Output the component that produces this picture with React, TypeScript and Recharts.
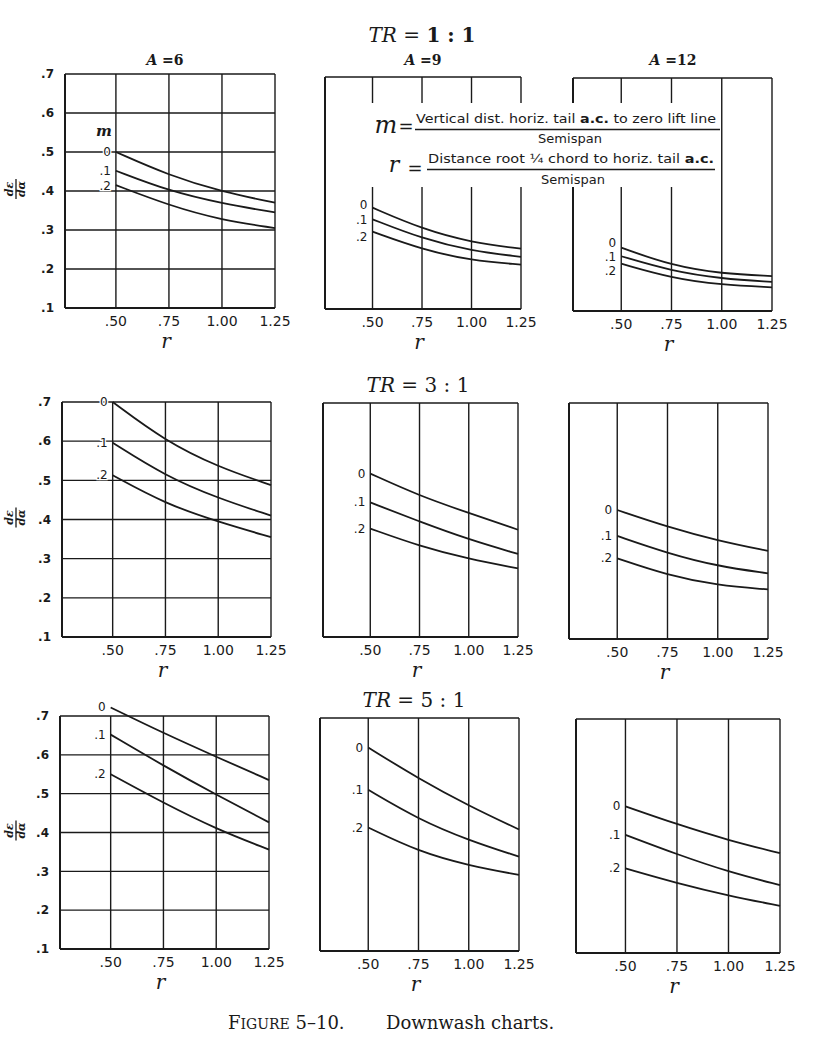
import React from 'react';
import { LineChart, Line, XAxis, YAxis, CartesianGrid } from 'recharts';

// ---------- data ----------
const rValues = [0.5, 0.75, 1.0, 1.25];
const rTicks = [0.5, 0.75, 1.0, 1.25];
const rTickLabels = ['.50', '.75', '1.00', '1.25'];
const yTicks = [0.1, 0.2, 0.3, 0.4, 0.5, 0.6, 0.7];
const yTickLabels = ['.1', '.2', '.3', '.4', '.5', '.6', '.7'];
const mLabels = ['0', '.1', '.2'];
const seriesKeys = ['m0', 'm1', 'm2'];
const trTitles = ['1 : 1', '3 : 1', '5 : 1'];
const aspectLabels = ['6', '9', '12'];

// each panel: [m = 0, m = .1, m = .2] at r = .50, .75, 1.00, 1.25
const tr1A6 = [[0.5, 0.44, 0.398, 0.37], [0.452, 0.4, 0.368, 0.345], [0.415, 0.363, 0.325, 0.305]];
const tr1A9 = [[0.362, 0.307, 0.272, 0.256], [0.332, 0.282, 0.25, 0.235], [0.3, 0.254, 0.225, 0.215]];
const tr1A12 = [[0.263, 0.217, 0.196, 0.19], [0.241, 0.203, 0.183, 0.175], [0.222, 0.185, 0.167, 0.161]];
const tr3A6 = [[0.7, 0.6, 0.534, 0.488], [0.596, 0.511, 0.454, 0.41], [0.513, 0.44, 0.394, 0.355]];
const tr3A9 = [[0.519, 0.462, 0.418, 0.375], [0.445, 0.396, 0.35, 0.313], [0.378, 0.333, 0.3, 0.276]];
const tr3A12 = [[0.428, 0.385, 0.35, 0.324], [0.362, 0.318, 0.285, 0.267], [0.305, 0.262, 0.236, 0.226]];
const tr5A6 = [[0.722, 0.656, 0.595, 0.535], [0.652, 0.572, 0.497, 0.426], [0.55, 0.476, 0.409, 0.356]];
const tr5A9 = [[0.624, 0.544, 0.474, 0.413], [0.515, 0.439, 0.385, 0.343], [0.418, 0.356, 0.32, 0.296]];
const tr5A12 = [[0.476, 0.43, 0.389, 0.356], [0.403, 0.353, 0.308, 0.274], [0.317, 0.279, 0.247, 0.221]];

// ---------- layout ----------
const INK = '#1a1a1a';
const PAD_L = 66;
const PAD_T = 20;
const PAD_R = 22;
const PAD_B = 46;

const panels = [
  { box: { x: 65, y: 74, w: 210, h: 234 }, series: tr1A6, showY: true, showM: true, labelDy: [0, 0, 1] },
  { box: { x: 325, y: 77, w: 196, h: 232 }, series: tr1A9, showY: false, showM: false, labelDy: [-3, 1, 5] },
  { box: { x: 573, y: 78, w: 199, h: 233 }, series: tr1A12, showY: false, showM: false, labelDy: [-5, 1, 7] },
  { box: { x: 62, y: 402, w: 209, h: 235 }, series: tr3A6, showY: true, showM: false, labelDy: [0, 0, 0] },
  { box: { x: 323, y: 403, w: 195, h: 234 }, series: tr3A9, showY: false, showM: false, labelDy: [0, 0, 0] },
  { box: { x: 569, y: 403, w: 199, h: 236 }, series: tr3A12, showY: false, showM: false, labelDy: [0, 0, 0] },
  { box: { x: 60, y: 716, w: 209, h: 233 }, series: tr5A6, showY: true, showM: false, labelDy: [0, 0, 0] },
  { box: { x: 320, y: 718, w: 199, h: 233 }, series: tr5A9, showY: false, showM: false, labelDy: [0, 0, 0] },
  { box: { x: 576, y: 719, w: 204, h: 234 }, series: tr5A12, showY: false, showM: false, labelDy: [0, 0, 0] },
];

const lookup = (vals: number[], labels: string[], v: number) => {
  const i = vals.findIndex((t) => Math.abs(t - v) < 1e-6);
  return i >= 0 ? labels[i] : '';
};

function FractionLabel(props: any) {
  const vb = props.viewBox || {};
  const cx = 16 - props.chartLeft;
  const cy = (vb.y || 0) + (vb.height || 0) / 2 - 2;
  const f = { fontFamily: 'DejaVu Serif', fontStyle: 'italic', fontWeight: 'bold', fontSize: 11, fill: INK } as any;
  return (
    <g transform={`translate(${cx}, ${cy}) rotate(-90)`}>
      <text x={0} y={-3} textAnchor="middle" {...f}>dε</text>
      <line x1={-10} x2={10} y1={0} y2={0} stroke={INK} strokeWidth={1.3} />
      <text x={0} y={9} textAnchor="middle" {...f}>dα</text>
    </g>
  );
}

function makeCurveLabel(text: string, showM: boolean, dy: number) {
  return function CurveLabel(p: any) {
    if (p.index !== 0) return null;
    const x = p.x ?? p.viewBox?.x;
    const y = p.y ?? p.viewBox?.y;
    if (x == null || y == null) return null;
    return (
      <g>
        {showM && (
          <text x={x - 12} y={y - 16} textAnchor="middle" fontFamily="DejaVu Serif" fontStyle="italic" fontWeight="bold" fontSize={15} fill={INK}>m</text>
        )}
        <text
          x={x - 5}
          y={y + 4 + dy}
          textAnchor="end"
          fontFamily="DejaVu Sans"
          fontSize={12}
          fill={INK}
          stroke="#fff"
          strokeWidth={2.5}
          paintOrder="stroke"
        >
          {text}
        </text>
      </g>
    );
  };
}

function Panel({ box, series, showY, showM, labelDy }: any) {
  const data = rValues.map((r, i) => ({ r, m0: series[0][i], m1: series[1][i], m2: series[2][i] }));
  const chartLeft = box.x - PAD_L;
  return (
    <div style={{ position: 'absolute', left: chartLeft, top: box.y - PAD_T }}>
      <LineChart
        width={box.w + PAD_L + PAD_R}
        height={box.h + PAD_T + PAD_B}
        data={data}
        margin={{ top: PAD_T, right: PAD_R, left: 0, bottom: 0 }}
      >
        <CartesianGrid stroke={INK} strokeWidth={1.4} />
        <XAxis
          type="number"
          dataKey="r"
          domain={[0.26, 1.25]}
          ticks={rTicks}
          allowDataOverflow
          interval={0}
          height={PAD_B}
          tickLine={false}
          tickMargin={2}
          axisLine={{ stroke: INK, strokeWidth: 2 }}
          tick={{ fontFamily: 'DejaVu Sans', fontSize: 14, fill: INK }}
          tickFormatter={(v: number) => lookup(rTicks, rTickLabels, v)}
          label={{
            value: 'r',
            position: 'insideBottom',
            offset: 6,
            dx: -4,
            fontFamily: 'DejaVu Serif',
            fontStyle: 'italic',
            fontSize: 20,
            fill: INK,
          }}
        />
        <YAxis
          type="number"
          domain={[0.1, 0.7]}
          ticks={yTicks}
          allowDataOverflow
          interval={0}
          width={PAD_L}
          tickLine={false}
          tickMargin={5}
          axisLine={{ stroke: INK, strokeWidth: 2 }}
          tick={showY ? { fontFamily: 'DejaVu Sans', fontWeight: 'bold', fontSize: 12, fill: INK } : false}
          tickFormatter={(v: number) => lookup(yTicks, yTickLabels, v)}
          label={showY ? { content: (p: any) => <FractionLabel {...p} chartLeft={chartLeft} /> } : undefined}
        />
        {seriesKeys.map((k, si) => (
          <Line
            key={k}
            dataKey={k}
            type="basis"
            stroke={INK}
            strokeWidth={1.8}
            dot={false}
            isAnimationActive={false}
            label={makeCurveLabel(mLabels[si], showM && si === 0, labelDy[si])}
          />
        ))}
      </LineChart>
    </div>
  );
}

function Overlay() {
  const serif = 'DejaVu Serif';
  const sans = 'DejaVu Sans';
  const titleY = [42, 392, 707];
  const titleX = [422, 418, 414];
  const aX = [165, 423, 673];
  return (
    <svg width={840} height={1052} style={{ position: 'absolute', left: 0, top: 0, pointerEvents: 'none' }}>
      {trTitles.map((t, i) => (
        <text key={t} x={titleX[i]} y={titleY[i]} textAnchor="middle" fontFamily={serif} fontSize={20} fill={INK}>
          <tspan fontStyle="italic">TR</tspan>
          <tspan> = </tspan>
          <tspan fontWeight={i === 0 ? 'bold' : 'normal'}>{t}</tspan>
        </text>
      ))}
      {aspectLabels.map((a, i) => (
        <text key={a} x={aX[i]} y={65} textAnchor="middle" fontFamily={serif} fontSize={14} fontWeight="bold" fill={INK}>
          <tspan fontStyle="italic">A</tspan>
          <tspan> =</tspan>
          <tspan>{a}</tspan>
        </text>
      ))}

      {/* definition box */}
      <rect x={371} y={103} width={348} height={84} fill="#fff" />
      <text x={386} y={133} textAnchor="middle" fontFamily={serif} fontStyle="italic" fontSize={24} fill={INK}>m</text>
      <text x={406} y={133} textAnchor="middle" fontFamily={serif} fontSize={18} fill={INK}>=</text>
      <text x={416} y={123} fontFamily={sans} fontSize={12.5} fill={INK} textLength={300} lengthAdjust="spacingAndGlyphs">
        Vertical dist. horiz. tail <tspan fontWeight="bold">a.c.</tspan> to zero lift line
      </text>
      <line x1={415} x2={720} y1={129.5} y2={129.5} stroke={INK} strokeWidth={1.3} />
      <text x={570} y={143} textAnchor="middle" fontFamily={sans} fontSize={13} fill={INK}>Semispan</text>

      <text x={394} y={172} textAnchor="middle" fontFamily={serif} fontStyle="italic" fontSize={22} fill={INK}>r</text>
      <text x={415} y={175} textAnchor="middle" fontFamily={serif} fontSize={18} fill={INK}>=</text>
      <text x={428} y={163} fontFamily={sans} fontSize={12.5} fill={INK} textLength={286} lengthAdjust="spacingAndGlyphs">
        Distance root ¼ chord to horiz. tail <tspan fontWeight="bold">a.c.</tspan>
      </text>
      <line x1={427} x2={715} y1={169.5} y2={169.5} stroke={INK} strokeWidth={1.3} />
      <text x={573} y={184} textAnchor="middle" fontFamily={sans} fontSize={13} fill={INK}>Semispan</text>

      {/* caption */}
      <text x={228} y={1029} fontFamily={serif} fontSize={18} fill={INK}>
        <tspan>F</tspan>
        <tspan fontSize={14}>IGURE</tspan>
        <tspan> 5–10.</tspan>
      </text>
      <text x={386} y={1029} fontFamily={serif} fontSize={18} fill={INK}>Downwash charts.</text>
    </svg>
  );
}

export default function App() {
  return (
    <div
      className="downwash"
      style={{ position: 'absolute', left: 0, top: 0, width: 840, height: 1052, background: '#fff', overflow: 'hidden' }}
    >
      <style>{'.downwash g[clip-path], .downwash path[clip-path] { clip-path: none !important; }'}</style>
      {panels.map((p, i) => (
        <Panel key={i} {...p} />
      ))}
      <Overlay />
    </div>
  );
}
